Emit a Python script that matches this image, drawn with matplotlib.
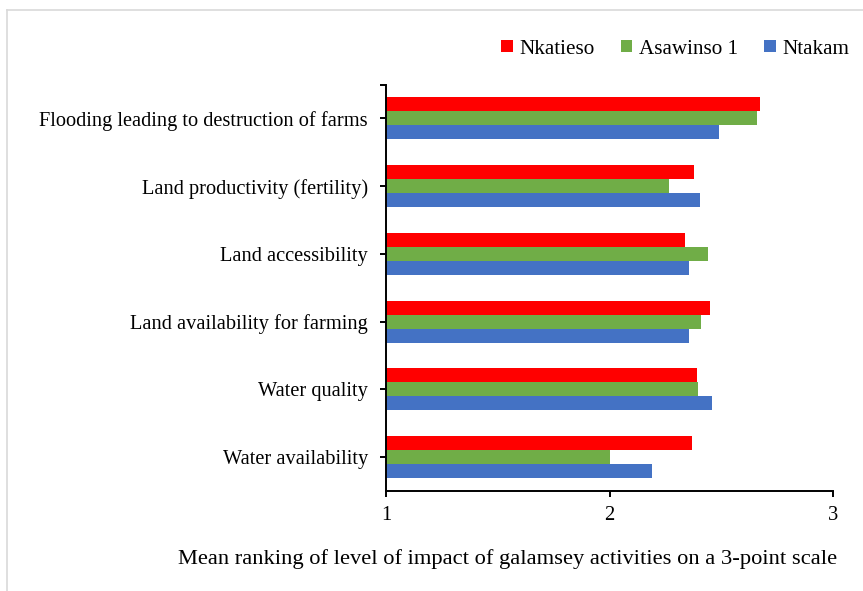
import matplotlib
matplotlib.use("Agg")
import matplotlib.pyplot as plt
from matplotlib.lines import Line2D
from matplotlib.patches import Patch
import numpy as np

plt.rcParams['font.family'] = ['Liberation Serif', 'DejaVu Serif']

categories = ["Water availability", "Water quality", "Land availability for farming",
              "Land accessibility", "Land productivity (fertility)",
              "Flooding leading to destruction of farms"]
nkatieso = [2.37, 2.39, 2.45, 2.34, 2.38, 2.675]
asawinso = [2.00, 2.395, 2.41, 2.44, 2.265, 2.66]
ntakam = [2.19, 2.46, 2.355, 2.355, 2.405, 2.49]
series_names = ["Nkatieso", "Asawinso 1", "Ntakam"]
colors = ["#FF0000", "#70AD47", "#4472C4"]
xticks = [1, 2, 3]
xlabel = "Mean ranking of level of impact of galamsey activities on a 3-point scale"

W, H = 863, 591
fig = plt.figure(figsize=(W / 100, H / 100), dpi=100)
ax = fig.add_axes([386 / W, 1 - 491 / H, 447 / W, (491 - 84.5) / H])

y = np.arange(len(categories))
h = 0.207
for vals, off, c in zip([nkatieso, asawinso, ntakam], [h, 0, -h], colors):
    ax.barh(y + off, np.array(vals) - 1, left=1, height=h, color=c)

ax.set_xlim(1, 3)
ax.set_ylim(-0.5, len(categories) - 0.5)
ax.set_xticks(xticks)
ax.set_xticklabels([str(t) for t in xticks], fontsize=14.8)
ax.set_yticks(y)
ax.set_yticklabels(categories, fontsize=14.7)
ax.set_yticks([len(categories) - 0.5], minor=True)
ax.tick_params(axis='y', which='both', length=4, width=1.4, pad=9, direction='out')
ax.tick_params(axis='x', length=4, width=1.4, pad=7, direction='out')
for s in ['top', 'right']:
    ax.spines[s].set_visible(False)
for s in ['left', 'bottom']:
    ax.spines[s].set_linewidth(1.4)
    ax.spines[s].set_color('black')

fig.text(508 / W, 1 - 559 / H, xlabel, fontsize=16.2, ha='center', va='center')

handles = [Patch(facecolor=c, edgecolor='none') for c in colors]
fig.legend(handles, series_names, loc='center right', bbox_to_anchor=(849 / W, 1 - 49 / H),
           ncol=3, frameon=False, fontsize=15.2, handlelength=0.55, handleheight=0.55,
           handletextpad=0.3, columnspacing=1.25, borderaxespad=0, borderpad=0)

# outer light-grey frame (top and left)
fig.add_artist(Line2D([6.5 / W, 1], [1 - 9.5 / H, 1 - 9.5 / H], color='#d9d9d9', lw=1.2,
                      transform=fig.transFigure))
fig.add_artist(Line2D([6.5 / W, 6.5 / W], [0, 1 - 9.5 / H], color='#d9d9d9', lw=1.2,
                      transform=fig.transFigure))

fig.savefig("out.png", dpi=100)
